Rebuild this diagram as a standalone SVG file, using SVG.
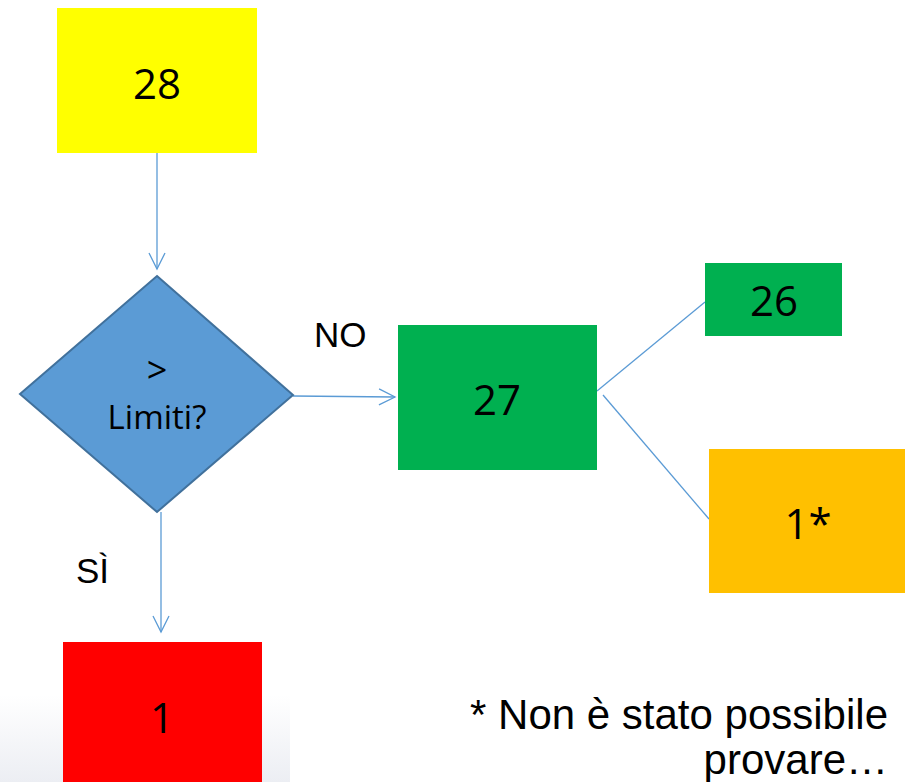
<svg xmlns="http://www.w3.org/2000/svg" width="905" height="782" viewBox="0 0 905 782">
<defs>
<linearGradient id="bg" x1="0" y1="0" x2="0" y2="1">
<stop offset="0" stop-color="#ffffff"/>
<stop offset="1" stop-color="#eceef3"/>
</linearGradient>
<style>
.num{font-family:"Open Sans","Noto Sans",sans-serif;font-size:42px;fill:#000;text-anchor:middle;dominant-baseline:central}
.lbl{font-family:"Liberation Sans",Arial,sans-serif;fill:#000}
.con{stroke:#5B9BD5;stroke-width:1.3;fill:none}
</style>
<marker id="arr" viewBox="0 0 20 20" refX="18" refY="10" markerWidth="20" markerHeight="20" markerUnits="userSpaceOnUse" orient="auto">
<path d="M2,2 L18,10 L2,18" fill="none" stroke="#5B9BD5" stroke-width="1.3"/>
</marker>
</defs>
<rect width="905" height="782" fill="#fff"/>
<rect x="0" y="695" width="290" height="87" fill="url(#bg)"/>
<g id="connectors">
<line class="con" x1="157" y1="153" x2="157" y2="269" marker-end="url(#arr)"/>
<line class="con" x1="293" y1="396" x2="395" y2="397" marker-end="url(#arr)"/>
<line class="con" x1="161" y1="512" x2="161" y2="632" marker-end="url(#arr)"/>
<line class="con" x1="597" y1="391" x2="705" y2="302"/>
<line class="con" x1="603" y1="395" x2="709" y2="519"/>
</g>
<g id="n28"><rect x="57" y="8" width="200" height="145" fill="#FFFF00"/><text class="num" x="157" y="82">28</text></g>
<g id="decision"><polygon points="157,276 293,395 157,512 20,394" fill="#5B9BD5" stroke="#41719C" stroke-width="2"/>
<text x="157" y="383" font-family="Open Sans, Noto Sans, sans-serif" font-size="36" text-anchor="middle">&gt;</text>
<text x="157" y="429" font-family="Open Sans, Noto Sans, sans-serif" font-size="33" text-anchor="middle">Limiti?</text></g>
<g id="n27"><rect x="398" y="325" width="199" height="145" fill="#00B050"/><text class="num" x="497" y="398">27</text></g>
<g id="n26"><rect x="705" y="263" width="137" height="73" fill="#00B050"/><text class="num" x="774" y="299">26</text></g>
<g id="n1star"><rect x="709" y="449" width="196" height="144" fill="#FFC000"/><text class="num" x="808" y="522">1*</text></g>
<g id="n1"><rect x="63" y="642" width="199" height="140" fill="#FF0000"/><text class="num" x="162" y="716">1</text></g>
<g id="labels">
<text class="lbl" x="314" y="347" font-size="35">NO</text>
<text class="lbl" x="76" y="583" font-size="35">SÌ</text>
<text class="lbl" x="888" y="729" font-size="42" text-anchor="end">* Non è stato possibile</text>
<text class="lbl" x="888" y="774" font-size="42" text-anchor="end">provare…</text>
</g>
</svg>
